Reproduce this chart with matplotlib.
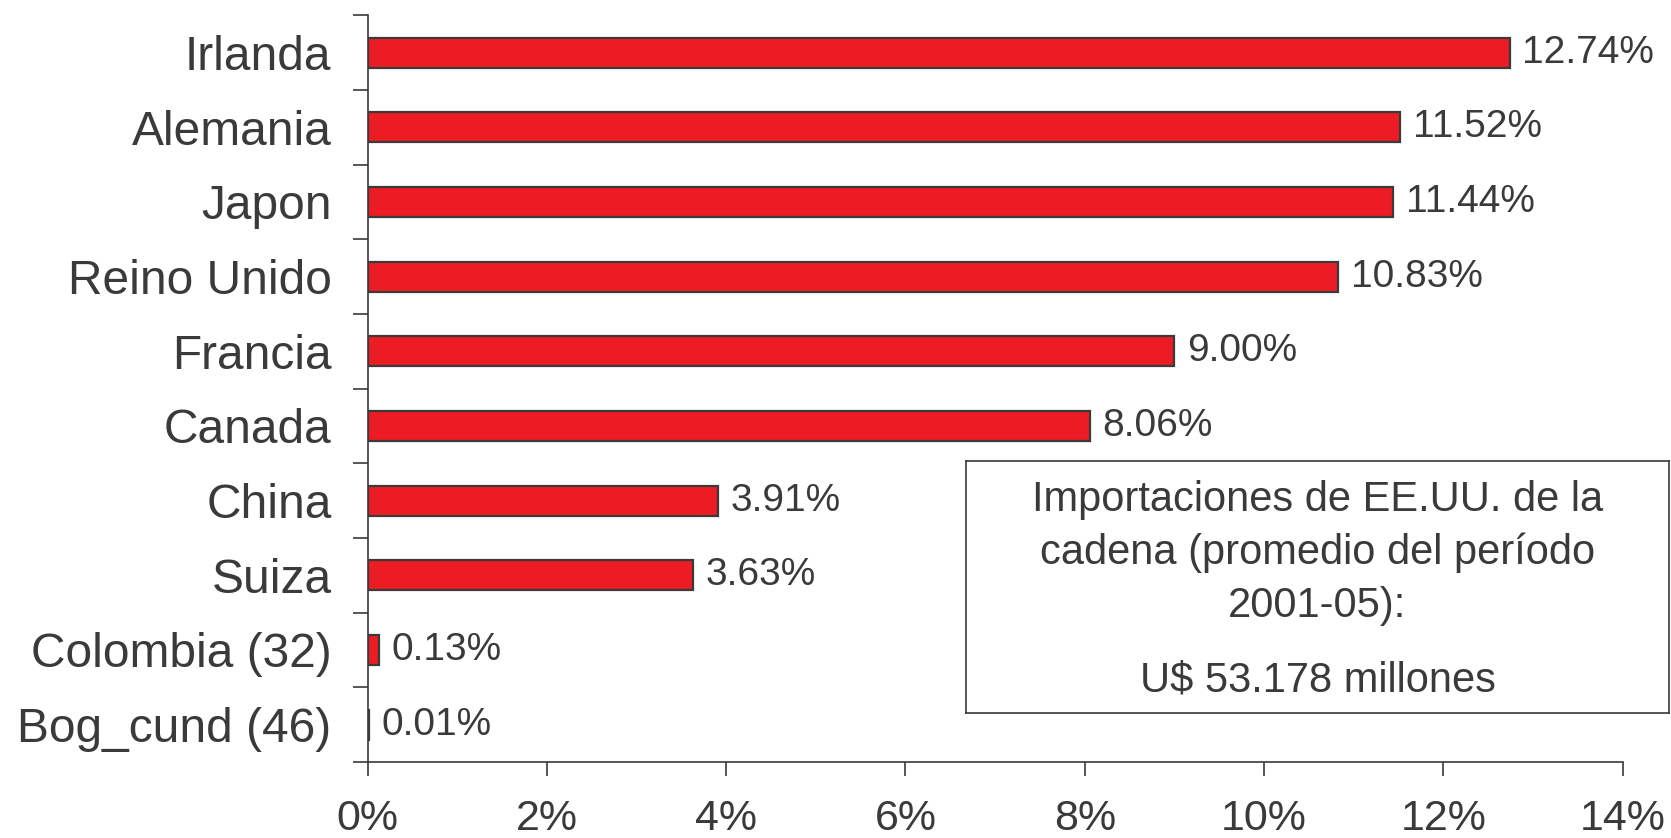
import matplotlib
matplotlib.use("Agg")
import matplotlib.pyplot as plt
import numpy as np

paises = ["Irlanda", "Alemania", "Japon", "Reino Unido", "Francia",
          "Canada", "China", "Suiza", "Colombia (32)", "Bog_cund (46)"]
participacion = [12.74, 11.52, 11.44, 10.83, 9.00, 8.06, 3.91, 3.63, 0.13, 0.01]
xticks = [0, 2, 4, 6, 8, 10, 12, 14]

gris = "#3a3a3a"
rojo = "#ed1c24"

plt.rcParams["font.family"] = ["Liberation Sans", "DejaVu Sans"]

fig = plt.figure(figsize=(16.71, 8.38), dpi=100)
ax = fig.add_axes([0.220, 0.0907, 0.751, 0.891])

y = np.arange(len(paises))
ax.barh(y, participacion, height=0.4, color=rojo, edgecolor=gris, linewidth=1.6)

for yi, v in zip(y, participacion):
    ax.annotate(f"{v:.2f}%", (v, yi), xytext=(9, 0), textcoords="offset points",
                va="center", ha="left", fontsize=28, color=gris)

ax.set_ylim(len(paises) - 0.5, -0.5)
ax.set_xlim(0, 14)

ax.set_yticks(y)
ax.set_yticklabels(paises, fontsize=34.5, color=gris)
ax.tick_params(axis="y", which="major", length=0, pad=26)
ax.set_yticks(np.arange(-0.5, len(paises), 1), minor=True)
ax.tick_params(axis="y", which="minor", length=11, width=1.2, color=gris)

ax.set_xticks(xticks)
ax.set_xticklabels([f"{t}%" for t in xticks], fontsize=31, color=gris)
ax.tick_params(axis="x", length=10, width=1.2, color=gris, pad=17)

for lado in ["top", "right"]:
    ax.spines[lado].set_visible(False)
for lado in ["left", "bottom"]:
    ax.spines[lado].set_color(gris)
    ax.spines[lado].set_linewidth(1.2)

# recuadro con el total importado
caja = fig.add_axes([966 / 1671, 1 - 713 / 838, (1669 - 966) / 1671, (713 - 461) / 838])
caja.set_xticks([])
caja.set_yticks([])
for s in caja.spines.values():
    s.set_color(gris)
    s.set_linewidth(1.2)
caja.text(0.5, 0.635, "Importaciones de EE.UU. de la\ncadena (promedio del período\n2001-05):",
          ha="center", va="center", fontsize=30, color=gris, linespacing=1.42)
caja.text(0.5, 0.13, "U$ 53.178 millones", ha="center", va="center", fontsize=30,
          color=gris)

fig.savefig("out.png", dpi=100)
